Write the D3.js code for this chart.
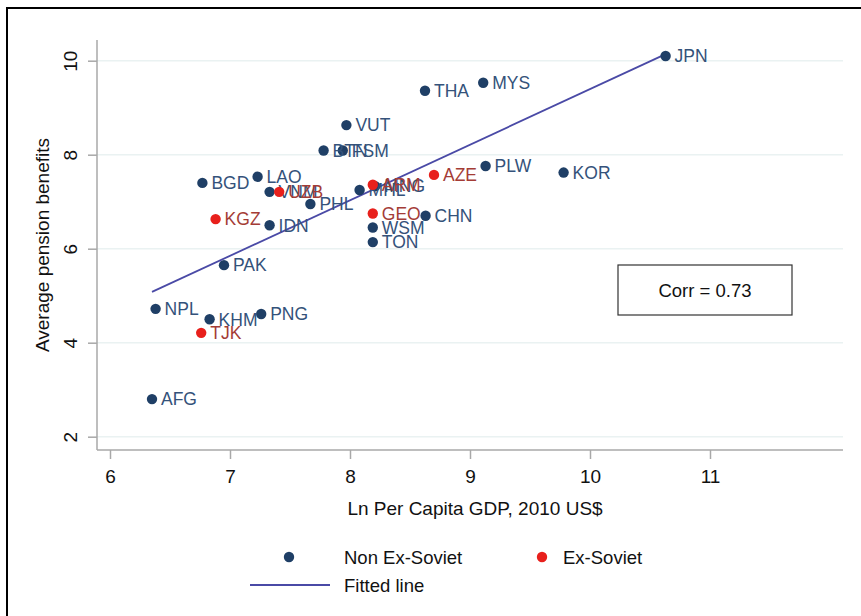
<!DOCTYPE html>
<html>
<head>
<meta charset="utf-8">
<script src="https://cdn.jsdelivr.net/npm/d3@7"></script>
<style>
  body { margin: 0; background: #fff; }
  svg { display: block; font-family: "Liberation Sans", Arial, sans-serif; }
</style>
</head>
<body>
<div id="chart"></div>
<script>
// Non ex-Soviet countries
const blueCodes = ['JPN', 'MYS', 'THA', 'VUT', 'BTN', 'FSM', 'PLW', 'KOR', 'BGD', 'LAO', 'VNM', 'PHL',
                   'IDN', 'MHL', 'MNG', 'CHN', 'WSM', 'TON', 'PAK', 'NPL', 'KHM', 'PNG', 'AFG'];
const blueGdp   = [10.63, 9.11, 8.625, 7.97, 7.78, 7.94, 9.13, 9.78, 6.77, 7.23, 7.33, 7.67,
                   7.33, 8.08, 8.21, 8.63, 8.19, 8.19, 6.95, 6.38, 6.83, 7.26, 6.35];
const bluePension = [10.1, 9.53, 9.36, 8.63, 8.09, 8.09, 7.76, 7.62, 7.40, 7.53, 7.21, 6.95,
                     6.50, 7.25, 7.33, 6.70, 6.45, 6.14, 5.65, 4.72, 4.50, 4.61, 2.80];

// Ex-Soviet countries
const redCodes   = ['AZE', 'UZB', 'ARM', 'KGZ', 'GEO', 'TJK'];
const redGdp     = [8.70, 7.41, 8.19, 6.88, 8.19, 6.76];
const redPension = [7.57, 7.21, 7.36, 6.63, 6.75, 4.21];

// fitted line end points
const fitX = [6.35, 10.63];
const fitY = [5.08, 10.14];

const xTicks = [6, 7, 8, 9, 10, 11];
const yTicks = [2, 4, 6, 8, 10];
const corrText = 'Corr = 0.73';

const width = 861, height = 616;
const colors = { blue: '#1f3f66', blueText: '#34527a', red: '#e8201c', redText: '#a43c36', fit: '#4a4aa6', axis: '#a8a8a8' };

const svg = d3.select('#chart').append('svg')
    .attr('width', width)
    .attr('height', height);

// outer frame (only left/top edges fall inside the picture)
svg.append('path')
    .attr('d', 'M7,' + height + ' V8 H' + width)
    .attr('fill', 'none')
    .attr('stroke', '#000')
    .attr('stroke-width', 2);

const x = d3.scaleLinear().domain([6, 11]).range([110, 710]);
const y = d3.scaleLinear().domain([2, 10]).range([436.7, 60.7]);
const plotLeft = 97, plotRight = 843, plotTop = 40, plotBottom = 450;

// gridlines
svg.append('g')
    .selectAll('line')
    .data(yTicks)
    .enter()
    .append('line')
    .attr('x1', plotLeft)
    .attr('x2', plotRight)
    .attr('y1', d => y(d))
    .attr('y2', d => y(d))
    .attr('stroke', '#eaf2f2')
    .attr('stroke-width', 1.5);

// axes
const xAxis = svg.append('g')
    .attr('transform', `translate(0, ${plotBottom})`)
    .call(d3.axisBottom(x).tickValues(xTicks).tickSize(9).tickPadding(11).tickFormat(d3.format('d')));
xAxis.select('.domain').attr('d', `M${plotLeft},0H${plotRight}`);

const yAxis = svg.append('g')
    .attr('transform', `translate(${plotLeft}, 0)`)
    .call(d3.axisLeft(y).tickValues(yTicks).tickSize(9).tickFormat(d3.format('d')));
yAxis.select('.domain').attr('d', `M0,${plotTop}V${plotBottom}`);
yAxis.selectAll('.tick text')
    .attr('x', 0)
    .attr('dy', 0)
    .attr('text-anchor', 'middle')
    .attr('transform', 'translate(-20, 0) rotate(-90)');

[xAxis, yAxis].forEach(a => {
    a.selectAll('.domain, .tick line').attr('stroke', colors.axis).attr('stroke-width', 1.5);
    a.selectAll('.tick text').style('font-size', '19px').style('fill', '#111').style('font-family', '"Liberation Sans", Arial, sans-serif');
});

// axis titles
svg.append('text')
    .attr('x', 475)
    .attr('y', 515)
    .attr('text-anchor', 'middle')
    .style('font-size', '19px')
    .style('fill', '#111')
    .text('Ln Per Capita GDP, 2010 US$');

svg.append('text')
    .attr('transform', 'translate(49, 245) rotate(-90)')
    .attr('text-anchor', 'middle')
    .style('font-size', '19px')
    .style('fill', '#111')
    .text('Average pension benefits');

// fitted line
svg.append('path')
    .datum(fitX.map((v, i) => [v, fitY[i]]))
    .attr('fill', 'none')
    .attr('stroke', colors.fit)
    .attr('stroke-width', 1.8)
    .attr('d', d3.line().x(d => x(d[0])).y(d => y(d[1])));

// points + labels
function drawGroup(codes, gx, gy, dotColor, textColor) {
    const data = codes.map((c, i) => ({ code: c, gx: gx[i], gy: gy[i] }));
    const g = svg.append('g');
    g.selectAll('circle')
        .data(data)
        .enter()
        .append('circle')
        .attr('cx', d => x(d.gx))
        .attr('cy', d => y(d.gy))
        .attr('r', 5.2)
        .attr('fill', dotColor);
    g.selectAll('text')
        .data(data)
        .enter()
        .append('text')
        .attr('x', d => x(d.gx) + 9)
        .attr('y', d => y(d.gy))
        .attr('dy', '0.36em')
        .style('font-size', '17.5px')
        .style('fill', textColor)
        .text(d => d.code);
}
drawGroup(blueCodes, blueGdp, bluePension, colors.blue, colors.blueText);
drawGroup(redCodes, redGdp, redPension, colors.red, colors.redText);

// correlation box
svg.append('rect')
    .attr('x', 618)
    .attr('y', 265)
    .attr('width', 174)
    .attr('height', 50)
    .attr('fill', '#fff')
    .attr('stroke', '#333')
    .attr('stroke-width', 1.2);
svg.append('text')
    .attr('x', 705)
    .attr('y', 297)
    .attr('text-anchor', 'middle')
    .style('font-size', '18.5px')
    .style('fill', '#111')
    .text(corrText);

// legend
const legend = svg.append('g');
const legendItems = [
    { label: 'Non Ex-Soviet', color: colors.blue, x: 289, y: 557, type: 'dot' },
    { label: 'Ex-Soviet', color: colors.red, x: 542, y: 557, type: 'dot' },
    { label: 'Fitted line', color: colors.fit, x: 290, y: 585, type: 'line' }
];
legendItems.forEach(item => {
    if (item.type === 'dot') {
        legend.append('circle')
            .attr('cx', item.x)
            .attr('cy', item.y)
            .attr('r', 5.2)
            .attr('fill', item.color);
    } else {
        legend.append('line')
            .attr('x1', 250)
            .attr('x2', 330)
            .attr('y1', item.y)
            .attr('y2', item.y)
            .attr('stroke', item.color)
            .attr('stroke-width', 1.8);
    }
    legend.append('text')
        .attr('x', item.type === 'dot' && item.label === 'Ex-Soviet' ? 563 : 344)
        .attr('y', item.y)
        .attr('dy', '0.36em')
        .style('font-size', '18.5px')
        .style('fill', '#111')
        .text(item.label);
});
</script>
</body>
</html>
